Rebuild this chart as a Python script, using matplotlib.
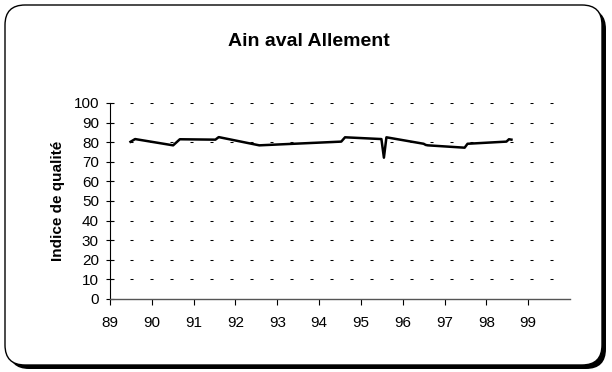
import matplotlib
matplotlib.use("Agg")
import matplotlib.pyplot as plt
from matplotlib.patches import FancyBboxPatch

plt.rcParams['font.family'] = ['Liberation Sans', 'DejaVu Sans']

title = "Ain aval Allement"
ylabel = "Indice de qualité"
years = [89.49, 89.6, 90.51, 90.67, 91.52, 91.6, 92.57, 94.53, 94.62, 95.49, 95.55,
         95.61, 96.5, 96.55, 96.6, 97.48, 97.55, 98.48, 98.54, 98.6]
quality = [80.2, 81.6, 78.4, 81.5, 81.3, 82.6, 78.4, 80.3, 82.5, 81.6, 72.1,
           82.5, 79.2, 78.6, 78.4, 77.2, 79.2, 80.3, 81.5, 81.3]
xticks = list(range(89, 100))
yticks = list(range(0, 101, 10))

W, H = 612, 372
fig = plt.figure(figsize=(W / 100, H / 100), dpi=100)

def fx(px):
    return px / W
def fy(py):
    return 1 - py / H

r = 20
shadow = FancyBboxPatch((fx(9), fy(369)), fx(606 - 9), (369 - 9) / H,
                        boxstyle="round,pad=0,rounding_size=%f" % (r / W),
                        transform=fig.transFigure, facecolor='black',
                        edgecolor='black', lw=0, zorder=0,
                        mutation_aspect=W / H)
fig.patches.append(shadow)
frame = FancyBboxPatch((fx(5), fy(365)), fx(602 - 5), (365 - 5) / H,
                       boxstyle="round,pad=0,rounding_size=%f" % (r / W),
                       transform=fig.transFigure, facecolor='white',
                       edgecolor='black', lw=1.0, zorder=1,
                       mutation_aspect=W / H)
fig.patches.append(frame)

ax = fig.add_axes([fx(110), fy(299), fx(570 - 110), (299 - 103) / H])
ax.set_zorder(2)
ax.patch.set_alpha(0)

ax.plot(years, quality, color='black', lw=1.8, solid_joinstyle='round', zorder=3)

ax.set_xlim(89, 100)
ax.set_ylim(0, 100)
ax.set_xticks(xticks)
ax.set_xticklabels([str(x) for x in xticks])
ax.set_yticks(yticks)
ax.set_yticklabels([str(y) for y in yticks])

for y in yticks[1:]:
    ax.axhline(y, color='black', lw=0.75, ls=(0, (2.9, 16.3)), zorder=1)

for s in ['top', 'right']:
    ax.spines[s].set_visible(False)
ax.spines['left'].set_color('black')
ax.spines['left'].set_linewidth(0.8)
ax.spines['bottom'].set_color('#555555')
ax.spines['bottom'].set_linewidth(1.0)

ax.tick_params(axis='y', direction='inout', length=6, width=0.8, labelsize=11, pad=5)
ax.tick_params(axis='x', direction='out', length=4, width=0.8, labelsize=11, pad=8)

ax.set_ylabel(ylabel, fontsize=11, fontweight='bold', labelpad=6)
fig.text(fx(309), fy(42), title, ha='center', va='center', fontsize=14, fontweight='bold')

fig.savefig('out.png', dpi=100)
